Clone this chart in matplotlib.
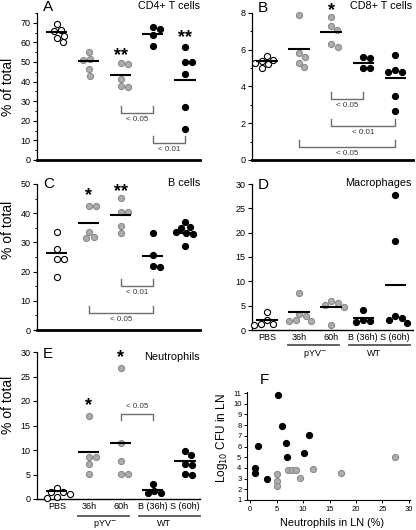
import matplotlib
matplotlib.use("Agg")
import matplotlib.pyplot as plt
import matplotlib.transforms as mtransforms
import numpy as np
from matplotlib.ticker import MultipleLocator

plt.rcParams["font.family"] = ["Liberation Sans", "DejaVu Sans"]

W, H = 416, 530

groups = ["PBS", "36h", "60h", "B (36h)", "S (60h)"]
group_kind = ["open", "gray", "gray", "black", "black"]

# panel A - CD4+ T cells
cd4_vals = [[69.5, 66.5, 66, 63.5, 62, 60],
            [55, 51.5, 51, 46.5, 43],
            [49.5, 49, 41.5, 37.5, 37],
            [68, 67, 64, 58],
            [57.8, 50, 50, 44, 26.8, 15.8]]
cd4_means = [65.3, 50.5, 43.3, 64.2, 40.8]
cd4_stars = [(2, 56, "**"), (4, 65, "**")]
cd4_pvals = [(2, 3, 24, "< 0.05"), (3, 4, 8.8, "< 0.01")]

# panel B - CD8+ T cells
cd8_vals = [[5.65, 5.45, 5.4, 5.3, 5.2, 5.0],
            [7.9, 5.8, 5.6, 5.3, 5.05],
            [7.8, 7.3, 7.1, 6.3, 6.15],
            [5.6, 5.55, 5.0, 5.0],
            [5.7, 4.9, 4.8, 4.8, 3.5, 2.65]]
cd8_means = [5.39, 6.03, 6.98, 5.3, 4.44]
cd8_stars = [(2, 8.4, "*")]
cd8_pvals = [(2, 3, 3.34, "< 0.05"), (2, 4, 1.86, "< 0.01"), (1, 4, 0.73, "< 0.05")]

# panel C - B cells
bc_vals = [[33.4, 27.8, 24.3, 24.3, 18.3],
           [42.5, 42.5, 33.7, 32, 31.5],
           [45.1, 40.5, 40.5, 35.6, 33.1],
           [33.1, 25.7, 21.9, 21.7],
           [37, 35.4, 35, 33.5, 33.3, 33, 28.8]]
bc_means = [26.5, 36.5, 39.4, 25.3, 33.3]
bc_stars = [(1, 47.7, "*"), (2, 49.1, "**")]
bc_pvals = [(2, 3, 15.1, "< 0.01"), (1, 3, 5.9, "< 0.05")]

# panel D - Macrophages
mac_vals = [[3.8, 2.0, 1.3, 1.2, 1.0],
            [7.7, 3.3, 2.8, 2.0, 1.9, 1.9],
            [5.9, 5.5, 5.2, 4.8, 1.0],
            [4.1, 2.0, 1.8, 1.6],
            [27.7, 18.3, 2.9, 2.4, 2.1, 1.5]]
mac_means = [2.0, 3.63, 4.8, 2.4, 9.2]

# panel E - Neutrophils
neu_vals = [[2.2, 1.5, 1.5, 1.0, 0.5, 0.3],
            [17.0, 8.6, 8.5, 7.1, 5.1],
            [26.8, 11.5, 7.7, 5.1, 5.1],
            [3.0, 1.6, 1.2, 1.2],
            [9.8, 9.0, 7.2, 7.0, 5.2, 5.0]]
neu_means = [1.7, 9.5, 11.5, 1.8, 7.7]
neu_stars = [(1, 20.2, "*"), (2, 29.9, "*")]
neu_pvals = [(2, 3, 17.4, "< 0.05")]

# panel F - CFU vs neutrophils
f_black_x = [5.2, 6.06, 11.05, 6.7, 1.45, 10.1, 6.9, 0.95, 0.95, 3.1]
f_black_y = [10.8, 7.94, 7.12, 6.36, 6.06, 5.44, 4.98, 4.0, 3.48, 2.96]
f_gray_x = [27.35, 11.9, 7.1, 7.9, 8.65, 5.1, 17.2, 5.0, 5.1, 9.35]
f_gray_y = [5.04, 3.92, 3.8, 3.77, 3.8, 3.45, 3.48, 2.77, 2.27, 3.08]

styles = {"open": ("white", "black"),
          "gray": ("#adadad", "#8a8a8a"),
          "black": ("black", "black")}
MS = 4.4      # marker diameter in points
DPX = 7.0     # min pixel distance between dot centres

fig = plt.figure(figsize=(W / 100, H / 100), dpi=100)


def make_axes(left, right, top, bottom):
    return fig.add_axes([left / W, 1 - bottom / H, (right - left) / W, (bottom - top) / H])


def beeswarm(ys, d):
    xs = []
    for i, y in enumerate(ys):
        cands = [0.0]
        for j in range(i):
            dy = y - ys[j]
            if abs(dy) < d:
                dx = np.sqrt(d * d - dy * dy)
                cands += [xs[j] + dx, xs[j] - dx]
        cands.sort(key=abs)
        for c in cands:
            if all((c - xs[j]) ** 2 + (y - ys[j]) ** 2 >= d * d - 1e-6 for j in range(i)):
                xs.append(c)
                break
    return np.array(xs)


def dot_panel(ax, vals, means, ymax, major, minor=None, thick=True):
    ax.set_xlim(-0.62, 4.47)
    ax.set_ylim(0, ymax)
    for i, v in enumerate(vals):
        v = np.asarray(v, float)
        pix = ax.transData.transform(np.column_stack([np.full(len(v), i), v]))
        offs = beeswarm(pix[:, 1], DPX)
        xs = ax.transData.inverted().transform(
            np.column_stack([pix[:, 0] + offs, pix[:, 1]]))[:, 0]
        fc, ec = styles[group_kind[i]]
        ax.scatter(xs, v, s=MS ** 2, facecolor=fc, edgecolor=ec,
                   linewidth=0.8, zorder=3, clip_on=False)
        ax.hlines(means[i], i - 0.33, i + 0.33, color="black", lw=1.5, zorder=4)
    ax.spines[["top", "right"]].set_visible(False)
    ax.spines["left"].set_linewidth(0.9)
    ax.spines["bottom"].set_linewidth(2.0 if thick else 1.0)
    ax.yaxis.set_major_locator(MultipleLocator(major))
    if minor:
        ax.yaxis.set_minor_locator(MultipleLocator(minor))
    ax.tick_params(axis="y", which="major", length=3, width=0.8, labelsize=6.5, pad=1.5)
    ax.tick_params(axis="y", which="minor", length=1.8, width=0.7)
    ax.set_xticks([])


def add_stars(ax, stars):
    for x, y, s in stars:
        ax.text(x, y, s, ha="center", va="center", fontsize=13, fontweight="bold",
                clip_on=False).set_y(y - ax.get_ylim()[1] * 0.035)


def add_pvals(ax, pvals, down=False):
    ymax = ax.get_ylim()[1]
    h = 0.045 * ymax
    for x1, x2, y, lab in pvals:
        leg = y - h if down else y + h
        ax.plot([x1, x1, x2, x2], [leg, y, y, leg], color="#6e6e6e", lw=1.0,
                clip_on=False, zorder=2)
        ly = y + 0.05 * ymax if down else y - 0.047 * ymax
        ax.text((x1 + x2) / 2, ly, lab, ha="center", va="center", fontsize=5.8,
                color="#333333")


def category_labels(ax, line_px, label_px):
    ax.set_xticks(range(len(groups)))
    ax.set_xticklabels(groups, fontsize=6.5)
    ax.tick_params(axis="x", length=0, pad=2.5)
    hgt = ax.get_position().height * H
    trans = mtransforms.blended_transform_factory(ax.transData, ax.transAxes)
    for x1, x2 in [(0.65, 2.25), (2.55, 4.47)]:
        ax.plot([x1, x2], [-line_px / hgt] * 2, color="#555555", lw=1.3,
                transform=trans, clip_on=False)
    ax.text(1.5, -label_px / hgt, "pYV$^{-}$", transform=trans, ha="center",
            va="center", fontsize=6.5)
    ax.text(3.35, -label_px / hgt, "WT", transform=trans, ha="center",
            va="center", fontsize=6.5)


def panel_text(letter, lx, ly, title, tx, ty):
    fig.text(lx / W, 1 - ly / H, letter, ha="left", va="top", fontsize=11)
    fig.text(tx / W, 1 - ty / H, title, ha="right", va="center", fontsize=7.8)


axA = make_axes(37, 200, 13, 160)
dot_panel(axA, cd4_vals, cd4_means, 75, 10, 5)
add_stars(axA, cd4_stars)
add_pvals(axA, cd4_pvals)
panel_text("A", 43, 0, "CD4+ T cells", 200, 6)

axB = make_axes(252, 413, 13, 160)
dot_panel(axB, cd8_vals, cd8_means, 8, 2, 1)
axB.set_xlim(-0.47, 4.56)
add_stars(axB, cd8_stars)
add_pvals(axB, cd8_pvals)
panel_text("B", 258, 1, "CD8+ T cells", 412, 6)

axC = make_axes(37, 200, 184, 330)
dot_panel(axC, bc_vals, bc_means, 50, 10, 5)
add_stars(axC, bc_stars)
add_pvals(axC, bc_pvals)
panel_text("C", 43, 177, "B cells", 200, 183)

axD = make_axes(252, 413, 184, 330)
dot_panel(axD, mac_vals, mac_means, 30, 5, thick=False)
axD.set_xlim(-0.47, 4.56)
category_labels(axD, 15, 24)
panel_text("D", 258, 178, "Macrophages", 412, 183)

axE = make_axes(37, 200, 352, 499)
dot_panel(axE, neu_vals, neu_means, 30, 5, thick=False)
add_stars(axE, neu_stars)
add_pvals(axE, neu_pvals, down=True)
category_labels(axE, 17, 25)
panel_text("E", 43, 347, "Neutrophils", 200, 357)

for y in [87, 230, 405]:
    fig.text(8 / W, 1 - y / H, "% of total", rotation=90, ha="center",
             va="center", fontsize=10)

axF = make_axes(247, 410, 392, 500)
axF.scatter(f_black_x, f_black_y, s=MS ** 2, facecolor="black", edgecolor="black",
            linewidth=0.8, zorder=3, clip_on=False)
axF.scatter(f_gray_x, f_gray_y, s=MS ** 2, facecolor=styles["gray"][0],
            edgecolor=styles["gray"][1], linewidth=0.8, zorder=3, clip_on=False)
axF.set_xlim(-0.6, 30.2)
axF.set_ylim(1, 11.1)
axF.set_xticks(range(0, 31, 5))
axF.set_yticks(range(1, 12))
axF.spines[["top", "right"]].set_visible(False)
axF.spines[["left", "bottom"]].set_linewidth(0.8)
axF.tick_params(length=2.5, width=0.7, labelsize=5.5, pad=1.5)
fig.text(260 / W, 1 - 373 / H, "F", ha="left", va="top", fontsize=11)
fig.text(222 / W, 1 - 438 / H, "Log$_{10}$ CFU in LN", rotation=90, ha="center",
         va="center", fontsize=8.5)
fig.text(332 / W, 1 - 523 / H, "Neutrophils in LN (%)", ha="center", va="center",
         fontsize=7.8)

fig.savefig("out.png", dpi=100)
